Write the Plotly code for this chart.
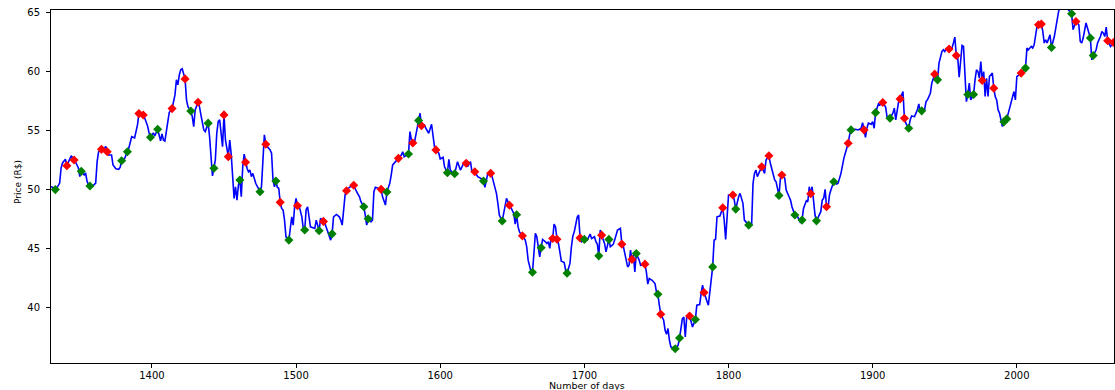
import plotly.graph_objects as go

# Daily closing price (R$)
days = [
    1330, 1331, 1333, 1334, 1336, 1337, 1338, 1340, 1341, 1344, 1346, 1347, 1349, 1350, 1351, 1353, 1354, 1355, 1356, 1357,
    1359, 1361, 1362, 1363, 1365, 1366, 1368, 1369, 1370, 1372, 1373, 1375, 1377, 1378, 1379, 1381, 1383, 1384, 1386, 1388,
    1390, 1391, 1392, 1394, 1395, 1397, 1398, 1399, 1401, 1402, 1404, 1405, 1406, 1407, 1408, 1409, 1410, 1411, 1412, 1414,
    1415, 1416, 1417, 1418, 1419, 1420, 1421, 1423, 1424, 1425, 1427, 1428, 1429, 1430, 1432, 1433, 1434, 1436, 1437, 1438,
    1439, 1440, 1441, 1442, 1443, 1444, 1445, 1446, 1447, 1449, 1450, 1451, 1453, 1454, 1455, 1456, 1457, 1458, 1459, 1460,
    1461, 1462, 1463, 1464, 1465, 1466, 1467, 1468, 1469, 1470, 1472, 1473, 1475, 1476, 1477, 1478, 1479, 1480, 1482, 1483,
    1484, 1485, 1486, 1487, 1488, 1489, 1490, 1491, 1492, 1493, 1495, 1496, 1497, 1498, 1499, 1500, 1501, 1502, 1504, 1505,
    1506, 1507, 1508, 1510, 1513, 1514, 1516, 1517, 1519, 1520, 1522, 1524, 1525, 1526, 1528, 1530, 1531, 1532, 1534, 1535,
    1537, 1540, 1542, 1544, 1545, 1547, 1548, 1549, 1550, 1552, 1553, 1554, 1555, 1559, 1560, 1562, 1563, 1565, 1566, 1567,
    1569, 1571, 1573, 1574, 1575, 1578, 1579, 1580, 1581, 1582, 1584, 1585, 1586, 1587, 1589, 1590, 1592, 1594, 1595, 1596,
    1597, 1599, 1600, 1602, 1603, 1605, 1606, 1607, 1608, 1610, 1612, 1613, 1614, 1616, 1618, 1619, 1621, 1622, 1624, 1626,
    1629, 1630, 1631, 1633, 1635, 1636, 1638, 1639, 1640, 1641, 1643, 1645, 1646, 1648, 1649, 1651, 1652, 1653, 1654, 1655,
    1657, 1659, 1660, 1661, 1663, 1664, 1665, 1666, 1667, 1668, 1669, 1670, 1671, 1673, 1674, 1675, 1676, 1677, 1678, 1679,
    1680, 1681, 1682, 1683, 1684, 1686, 1687, 1688, 1690, 1691, 1692, 1693, 1695, 1696, 1697, 1698, 1700, 1702, 1704, 1705,
    1707, 1708, 1709, 1710, 1711, 1712, 1714, 1715, 1716, 1717, 1718, 1720, 1721, 1723, 1725, 1726, 1727, 1729, 1730, 1731,
    1732, 1733, 1734, 1735, 1736, 1738, 1739, 1742, 1743, 1744, 1745, 1747, 1749, 1750, 1751, 1752, 1753, 1755, 1756, 1757,
    1758, 1759, 1760, 1763, 1765, 1766, 1768, 1769, 1770, 1771, 1773, 1775, 1777, 1778, 1780, 1781, 1782, 1783, 1785, 1786,
    1789, 1790, 1791, 1792, 1794, 1796, 1797, 1798, 1800, 1803, 1804, 1805, 1807, 1808, 1810, 1811, 1814, 1816, 1817, 1818,
    1819, 1820, 1823, 1825, 1826, 1828, 1829, 1831, 1832, 1833, 1834, 1835, 1836, 1837, 1839, 1840, 1842, 1843, 1844, 1846,
    1848, 1850, 1851, 1852, 1854, 1855, 1856, 1857, 1858, 1859, 1860, 1861, 1863, 1864, 1865, 1866, 1867, 1868, 1869, 1870,
    1871, 1873, 1875, 1876, 1878, 1879, 1880, 1881, 1883, 1884, 1885, 1888, 1890, 1892, 1893, 1894, 1895, 1896, 1897, 1899,
    1900, 1901, 1902, 1904, 1905, 1907, 1909, 1910, 1912, 1914, 1915, 1916, 1917, 1918, 1919, 1921, 1922, 1923, 1925, 1926,
    1927, 1929, 1931, 1932, 1933, 1934, 1936, 1937, 1938, 1940, 1941, 1943, 1945, 1946, 1948, 1949, 1950, 1951, 1953, 1955,
    1956, 1957, 1958, 1959, 1960, 1961, 1962, 1963, 1964, 1965, 1966, 1967, 1968, 1970, 1971, 1972, 1973, 1974, 1975, 1976,
    1977, 1978, 1979, 1980, 1981, 1983, 1984, 1985, 1986, 1987, 1988, 1989, 1990, 1991, 1993, 1995, 1996, 1997, 1998, 1999,
    2000, 2003, 2006, 2007, 2008, 2010, 2011, 2012, 2013, 2014, 2015, 2017, 2018, 2019, 2020, 2021, 2023, 2024, 2026, 2027,
    2028, 2029, 2031, 2033, 2035, 2038, 2039, 2041, 2043, 2044, 2045, 2046, 2047, 2048, 2050, 2051, 2052, 2053, 2055, 2056,
    2058, 2059, 2060, 2061, 2062, 2063, 2065, 2067,
]
price = [
    50.24, 50.2, 50.0, 50.13, 50.55, 51.82, 52.25, 52.56, 52.02, 52.86, 52.5, 52.33, 51.82, 51.1, 51.54, 51.23, 51.4, 50.7, 50.4, 50.3,
    50.3, 50.55, 52.36, 53.18, 53.4, 53.35, 53.63, 53.2, 52.92, 52.92, 52.08, 51.76, 51.71, 51.9, 52.44, 52.6, 53.2, 53.52, 54.47, 54.36,
    55.46, 56.42, 56.48, 56.3, 56.05, 55.38, 54.8, 54.42, 54.79, 54.53, 55.1, 54.5, 54.11, 54.7, 54.19, 54.1, 55.04, 56.0, 56.5, 56.84,
    57.43, 58.0, 59.27, 58.85, 59.69, 60.12, 60.2, 59.35, 57.58, 57.01, 56.64, 56.16, 55.32, 56.73, 57.38, 57.01, 56.31, 55.04, 54.9, 55.18,
    55.61, 54.47, 52.78, 51.15, 51.8, 52.5, 54.76, 55.74, 55.89, 53.63, 56.31, 54.19, 52.78, 54.19, 53.0, 51.09, 49.26, 50.24, 49.11, 50.38,
    50.81, 49.39, 51.93, 53.0, 52.31, 51.8, 51.51, 51.65, 51.09, 51.37, 50.53, 50.24, 49.82, 50.24, 52.5, 54.62, 53.83, 53.63, 53.35, 53.07,
    50.81, 50.24, 50.72, 50.2, 50.1, 48.92, 48.41, 48.27, 47.42, 46.01, 45.73, 46.85, 47.7, 47.0, 48.55, 49.26, 48.63, 48.69, 47.7, 46.72,
    46.58, 48.3, 48.55, 46.85, 46.72, 47.42, 46.52, 47.57, 47.31, 47.14, 46.43, 45.73, 46.26, 47.7, 47.9, 47.7, 47.42, 47.0, 49.54, 49.9,
    50.19, 50.36, 49.82, 49.39, 48.97, 48.55, 47.85, 47.0, 47.53, 47.28, 47.42, 49.82, 50.19, 50.02, 49.39, 48.69, 49.79, 50.53, 51.23, 52.08,
    52.36, 52.64, 52.92, 53.2, 52.78, 53.0, 54.9, 54.19, 53.93, 53.91, 55.32, 55.83, 56.45, 55.4, 55.46, 55.18, 54.76, 55.52, 54.76, 53.63,
    53.35, 53.07, 52.58, 52.73, 51.93, 51.43, 52.56, 51.65, 51.51, 51.34, 52.36, 51.93, 51.65, 52.14, 52.22, 51.93, 52.36, 51.51, 51.51, 51.09,
    50.89, 50.72, 50.19, 51.37, 51.37, 51.09, 50.1, 49.68, 48.84, 47.85, 47.34, 48.55, 49.26, 48.67, 48.5, 47.99, 47.08, 47.87, 46.85, 46.43,
    46.09, 45.73, 45.16, 44.04, 43.05, 43.02, 44.6, 46.3, 46.01, 45.16, 44.32, 45.08, 45.79, 45.59, 45.45, 45.59, 45.03, 46.01, 45.87, 47.08,
    46.85, 45.81, 45.45, 44.74, 43.95, 43.84, 43.19, 42.94, 43.76, 45.16, 46.07, 46.43, 47.65, 47.85, 45.92, 45.59, 45.79, 45.73, 46.24, 45.87,
    46.01, 45.59, 45.4, 44.4, 46.58, 46.15, 45.45, 44.74, 45.45, 45.79, 45.16, 45.37, 45.73, 46.58, 46.72, 45.39, 45.22, 43.81, 43.47, 43.61,
    44.88, 44.1, 44.46, 43.05, 44.6, 44.04, 43.61, 43.7, 43.05, 42.01, 42.49, 42.34, 42.06, 41.35, 41.16, 40.23, 39.47, 38.96, 38.11, 37.77,
    38.26, 37.27, 36.7, 36.56, 36.84, 37.46, 39.1, 39.24, 37.55, 39.24, 39.32, 38.39, 39.02, 40.23, 40.29, 41.22, 41.92, 41.3, 40.65, 40.23,
    43.47, 45.73, 45.79, 47.7, 47.76, 48.46, 47.42, 45.79, 49.54, 49.54, 49.11, 48.35, 49.39, 49.68, 48.84, 47.42, 47.0, 47.0, 50.53, 51.37,
    51.65, 51.09, 51.93, 51.37, 52.5, 52.86, 52.22, 51.09, 50.81, 50.66, 49.96, 49.51, 50.95, 51.23, 50.95, 49.96, 49.39, 49.11, 48.55, 47.85,
    47.7, 47.19, 47.42, 48.41, 49.06, 48.97, 50.24, 49.65, 50.24, 48.69, 47.85, 47.36, 47.99, 48.13, 49.11, 49.26, 50.02, 48.55, 48.41, 49.54,
    49.96, 50.66, 50.47, 50.53, 51.37, 52.22, 52.64, 53.07, 53.91, 54.62, 55.04, 55.1, 55.04, 55.18, 55.66, 55.04, 54.42, 55.18, 55.61, 55.52,
    55.74, 55.18, 56.5, 57.24, 57.15, 57.35, 56.96, 56.11, 56.03, 56.45, 56.88, 55.89, 56.88, 57.43, 57.66, 58.28, 56.03, 55.61, 55.18, 55.89,
    56.22, 56.16, 56.73, 57.24, 56.5, 56.65, 56.73, 57.43, 57.58, 58.14, 58.99, 59.75, 59.27, 60.68, 61.66, 61.81, 61.66, 61.9, 61.87, 61.95,
    62.38, 62.88, 61.33, 61.11, 59.5, 60.96, 62.17, 62.09, 59.0, 57.43, 58.03, 58.99, 57.58, 58.03, 59.27, 60.12, 59.97, 59.41, 60.82, 59.21,
    59.97, 57.86, 59.41, 57.86, 59.55, 59.84, 58.57, 57.86, 57.58, 56.73, 56.45, 55.89, 55.32, 55.72, 55.97, 56.88, 57.3, 57.86, 58.28, 57.58,
    59.55, 59.84, 60.26, 61.95, 61.81, 62.09, 61.95, 62.23, 62.93, 63.78, 63.92, 63.98, 63.36, 62.38, 62.66, 62.38, 63.08, 62.0, 62.93, 63.5,
    64.35, 65.05, 66.0, 65.9, 65.3, 64.85, 63.5, 64.2, 63.92, 62.51, 62.38, 62.8, 63.36, 64.07, 63.22, 62.8, 60.96, 61.33, 61.81, 62.38,
    62.93, 63.36, 63.22, 62.93, 63.73, 62.57, 62.09, 62.43,
]

# Days with a buy signal (green) and a sell signal (red)
buy_days = [
    1333, 1351, 1357, 1379, 1383, 1399, 1404, 1427, 1439, 1443, 1461, 1475, 1486, 1495, 1506, 1516, 1525, 1547, 1550, 1563,
    1578, 1585, 1605, 1610, 1630, 1643, 1653, 1664, 1670, 1688, 1700, 1710, 1717, 1736, 1751, 1763, 1766, 1777, 1789, 1805,
    1814, 1835, 1846, 1851, 1861, 1873, 1885, 1902, 1912, 1925, 1934, 1945, 1966, 1970, 1991, 1993, 2006, 2024, 2038, 2051,
    2053,
]
sell_days = [
    1341, 1346, 1365, 1369, 1391, 1394, 1414, 1423, 1432, 1450, 1453, 1465, 1479, 1489, 1501, 1519, 1535, 1540, 1559, 1571,
    1581, 1587, 1597, 1618, 1624, 1635, 1648, 1657, 1678, 1681, 1697, 1712, 1726, 1733, 1742, 1753, 1773, 1783, 1796, 1803,
    1823, 1828, 1837, 1857, 1868, 1883, 1894, 1907, 1919, 1922, 1943, 1953, 1958, 1976, 1984, 2003, 2015, 2017, 2041, 2063,
    2067,
]

x_ticks = [1400, 1500, 1600, 1700, 1800, 1900, 2000]
y_ticks = [40, 45, 50, 55, 60, 65]
x_range = [1330, 2067.4]
y_range = [35.35, 65.17]

lookup = dict(zip(days, price))
buy_price = [lookup[d] for d in buy_days]
sell_price = [lookup[d] for d in sell_days]

FONT = "DejaVu Sans"

fig = go.Figure()
fig.add_trace(go.Scatter(x=days, y=price, mode="lines",
                         line=dict(color="#0000ff", width=1.6), showlegend=False))
fig.add_trace(go.Scatter(x=sell_days, y=sell_price, mode="markers",
                         marker=dict(symbol="diamond", size=7, color="#ff0000",
                                     line=dict(width=0)), showlegend=False))
fig.add_trace(go.Scatter(x=buy_days, y=buy_price, mode="markers",
                         marker=dict(symbol="diamond", size=7, color="#008000",
                                     line=dict(width=0)), showlegend=False))

axis_common = dict(showline=True, mirror=True, linecolor="black", linewidth=1,
                   ticks="outside", ticklen=4, tickwidth=1, tickcolor="black",
                   showgrid=False, zeroline=False,
                   tickfont=dict(family=FONT, size=10, color="black"))

fig.update_xaxes(range=x_range, tickvals=x_ticks, ticklabelstandoff=-1, **axis_common)
fig.update_yaxes(range=y_range, tickvals=y_ticks, ticklabelstandoff=4, **axis_common)

fig.update_layout(
    width=1115, height=390,
    margin=dict(l=51, r=1, t=10, b=27),
    paper_bgcolor="white", plot_bgcolor="white",
    font=dict(family=FONT, color="black"),
    annotations=[
        dict(text="Number of days", xref="paper", yref="paper", x=0.504, y=0,
             xanchor="center", yanchor="middle", yshift=-22, showarrow=False,
             font=dict(family=FONT, size=9.5, color="black")),
        dict(text="Price (R$)", xref="paper", yref="paper", x=0, y=0.513,
             xanchor="center", yanchor="middle", xshift=-33, textangle=-90,
             showarrow=False, font=dict(family=FONT, size=9, color="black")),
    ],
)

fig.write_html("out.html", config={"displayModeBar": False},
               post_script="document.body.style.margin='0px';document.body.style.padding='0px';")
